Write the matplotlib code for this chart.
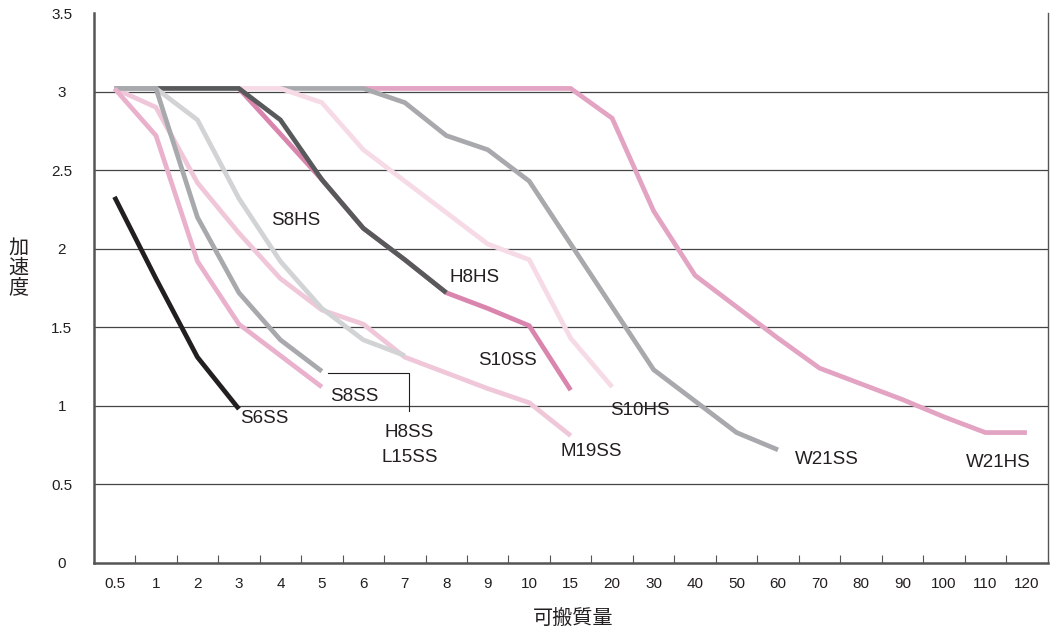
import matplotlib
matplotlib.use("Agg")
from matplotlib import pyplot as plt
import numpy as np

plt.rcParams['font.family'] = ['Liberation Sans', 'Noto Sans CJK JP', 'DejaVu Sans']

# x axis is categorical (payload), evenly spaced
categories = ['0.5', '1', '2', '3', '4', '5', '6', '7', '8', '9', '10', '15', '20',
              '30', '40', '50', '60', '70', '80', '90', '100', '110', '120']

# each series: (category labels, acceleration values)
s6ss_x = ['0.5', '1', '2', '3']
s6ss_y = [2.33, 1.81, 1.31, 0.98]

s8ss_x = ['0.5', '1', '2', '3', '4', '5']
s8ss_y = [3.02, 2.72, 1.92, 1.52, 1.32, 1.12]

h8ss_x = ['0.5', '1', '2', '3', '4', '5']
h8ss_y = [3.02, 3.02, 2.2, 1.72, 1.42, 1.22]

s8hs_x = ['0.5', '1', '2', '3', '4', '5', '6', '7']
s8hs_y = [3.02, 3.02, 2.82, 2.32, 1.92, 1.62, 1.42, 1.32]

m19ss_x = ['0.5', '1', '2', '3', '4', '5', '6', '7', '8', '9', '10', '15']
m19ss_y = [3.02, 2.9, 2.42, 2.1, 1.81, 1.61, 1.52, 1.31, 1.21, 1.11, 1.02, 0.81]

s10hs_x = ['3', '4', '5', '6', '7', '8', '9', '10', '15', '20']
s10hs_y = [3.02, 3.02, 2.93, 2.63, 2.43, 2.23, 2.03, 1.93, 1.43, 1.12]

s10ss_x = ['3', '4', '5', '6', '7', '8', '9', '10', '15']
s10ss_y = [3.02, 2.73, 2.44, 2.13, 1.93, 1.72, 1.62, 1.51, 1.1]

h8hs_x = ['0.5', '1', '2', '3', '4', '5', '6', '7', '8']
h8hs_y = [3.02, 3.02, 3.02, 3.02, 2.82, 2.44, 2.13, 1.93, 1.72]

w21ss_x = ['4', '5', '6', '7', '8', '9', '10', '15', '20', '30', '40', '50', '60']
w21ss_y = [3.02, 3.02, 3.02, 2.93, 2.72, 2.63, 2.43, 2.03, 1.63, 1.23, 1.03, 0.83, 0.72]

w21hs_x = ['6', '7', '8', '9', '10', '15', '20', '30', '40', '50', '60', '70', '80',
           '90', '100', '110', '120']
w21hs_y = [3.02, 3.02, 3.02, 3.02, 3.02, 3.02, 2.83, 2.24, 1.83, 1.63, 1.43, 1.24,
           1.14, 1.04, 0.93, 0.83, 0.83]

# draw order, back to front
series = [
    (w21hs_x, w21hs_y, '#e3a3c3'),
    (w21ss_x, w21ss_y, '#a7a9ac'),
    (s10hs_x, s10hs_y, '#f6dbe6'),
    (s10ss_x, s10ss_y, '#d985ad'),
    (h8hs_x, h8hs_y, '#58595b'),
    (m19ss_x, m19ss_y, '#f0c7d9'),
    (s8hs_x, s8hs_y, '#d1d3d4'),
    (h8ss_x, h8ss_y, '#a7a9ac'),
    (s8ss_x, s8ss_y, '#eab1cc'),
    (s6ss_x, s6ss_y, '#231f20'),
]

# label text and where it sits (category index, y)
labels = [
    ('S6SS', 3.62, 0.92),
    ('S8SS', 5.79, 1.06),
    ('H8SS', 7.11, 0.83),
    ('L15SS', 7.11, 0.67),
    ('S8HS', 4.37, 2.18),
    ('H8HS', 8.68, 1.82),
    ('S10SS', 9.47, 1.29),
    ('S10HS', 12.68, 0.97),
    ('M19SS', 11.5, 0.71),
    ('W21SS', 17.17, 0.66),
    ('W21HS', 21.3, 0.64),
]

idx = {c: i for i, c in enumerate(categories)}

fig = plt.figure(figsize=(10.51, 6.35), dpi=100)
ax = fig.add_axes([0.0892, 0.1134, 0.9076, 0.8661])

for y in np.arange(0.5, 3.01, 0.5):
    ax.axhline(y, color='#444444', lw=0.9, zorder=1)

for xs, ys, col in series:
    ax.plot([idx[c] for c in xs], ys, color=col, lw=3.4, solid_joinstyle='miter',
            solid_capstyle='butt', zorder=3)

# bracket for H8SS / L15SS
ax.plot([5.15, 7.11, 7.11], [1.21, 1.21, 0.97], color='#231f20', lw=0.8, zorder=2)

for text, x, y in labels:
    ax.text(x, y, text, ha='center', va='center', fontsize=13.5, color='#231f20',
            zorder=4)

ax.set_xlim(-0.5, len(categories) - 0.5)
ax.set_ylim(0, 3.5)

ax.set_xticks(np.arange(len(categories)))
ax.set_xticklabels(categories, fontsize=11, color='#231f20')
ax.set_xticks(np.arange(0.5, len(categories) - 1, 1), minor=True)
ax.tick_params(axis='x', which='major', length=0, pad=10)
ax.tick_params(axis='x', which='minor', length=6, direction='in', width=0.8,
               color='#555555')

ax.set_yticks(np.arange(0, 3.51, 0.5))
ax.set_yticklabels(['0', '0.5', '1', '1.5', '2', '2.5', '3', '3.5'], fontsize=11,
                   color='#231f20', ha='center')
ax.tick_params(axis='y', length=0, pad=23)

for s in ['left', 'bottom', 'right']:
    ax.spines[s].set_color('#555555')
    ax.spines[s].set_linewidth(1.8)
ax.spines['top'].set_visible(False)
ax.spines['right'].set_linewidth(1.0)

fig.text(0.5457, 0.025, '可搬質量', ha='center', va='center', fontsize=14.5,
         family=['Noto Sans CJK JP', 'DejaVu Sans'], color='#231f20')
fig.text(0.0176, 0.578, '加\n速\n度', ha='center', va='center', fontsize=14.5,
         linespacing=0.95, family=['Noto Sans CJK JP', 'DejaVu Sans'],
         color='#231f20')

fig.savefig('out.png', dpi=100)
